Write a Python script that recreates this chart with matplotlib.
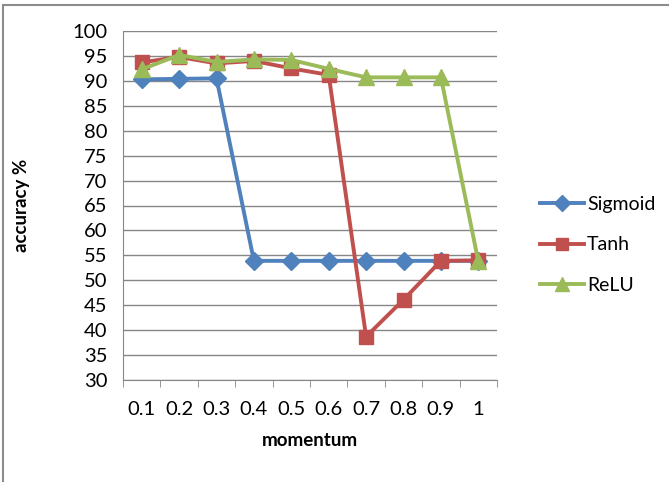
import matplotlib.pyplot as plt
from matplotlib.patches import Rectangle

# momentum values and accuracy (%) per activation
momentum = ['0.1', '0.2', '0.3', '0.4', '0.5', '0.6', '0.7', '0.8', '0.9', '1']
sigmoid = [90.3, 90.4, 90.5, 53.9, 53.9, 53.9, 53.9, 53.9, 53.9, 53.9]
tanh    = [93.7, 94.8, 93.5, 94.0, 92.5, 91.2, 38.7, 46.1, 53.9, 54.0]
relu    = [92.3, 95.2, 93.8, 94.3, 94.2, 92.4, 90.7, 90.7, 90.7, 53.8]

plt.rcParams['font.family'] = ['Lato', 'DejaVu Sans']

fig = plt.figure(figsize=(6.69, 4.82), dpi=100)
ax = fig.add_axes([123/669, 1 - 380/482, 374/669, 349/482])

x = list(range(len(momentum)))
grey = '#868686'

ax.plot(x, sigmoid, color='#4F81BD', marker='D', markersize=9, lw=2.8, label='Sigmoid')
ax.plot(x, tanh, color='#C0504D', marker='s', markersize=10, lw=2.8, label='Tanh')
ax.plot(x, relu, color='#9BBB59', marker='^', markersize=11, lw=2.8, label='ReLU')

ax.set_xlim(-0.5, len(momentum) - 0.5)
ax.set_ylim(30, 100)
ax.set_yticks(range(30, 101, 5))
ax.set_xticks(x)
ax.set_xticklabels(momentum)
ax.set_xticks([i - 0.5 for i in range(len(momentum) + 1)], minor=True)

ax.tick_params(axis='x', which='major', length=0, pad=15, labelsize=14.5)
ax.tick_params(axis='x', which='minor', length=5, color=grey, direction='out')
ax.tick_params(axis='y', length=0, pad=11, labelsize=14.5)

ax.grid(axis='y', color=grey, lw=1)
ax.set_axisbelow(True)
for side in ['top', 'right']:
    ax.spines[side].set_visible(False)
for side in ['left', 'bottom']:
    ax.spines[side].set_color(grey)

fig.text(22/669, 1 - 205/482, 'accuracy %', rotation=90, fontsize=13.5,
         fontweight='bold', ha='center', va='center')
fig.text(310/669, 1 - 441/482, 'momentum', fontsize=13.5,
         fontweight='bold', ha='center', va='center')

ax.legend(loc='center left', bbox_to_anchor=(522/669, 1 - 245/482),
          bbox_transform=fig.transFigure, frameon=False, fontsize=14,
          handlelength=2.3, handletextpad=0.15, labelspacing=1.2, markerscale=0.9)

# outer chart border
fig.patches.append(Rectangle((3/669, -0.1), 2, 1.1 - 5/482, transform=fig.transFigure,
                             fill=False, edgecolor='#8c8c8c', lw=1.5))

fig.savefig('out.png', dpi=100)
